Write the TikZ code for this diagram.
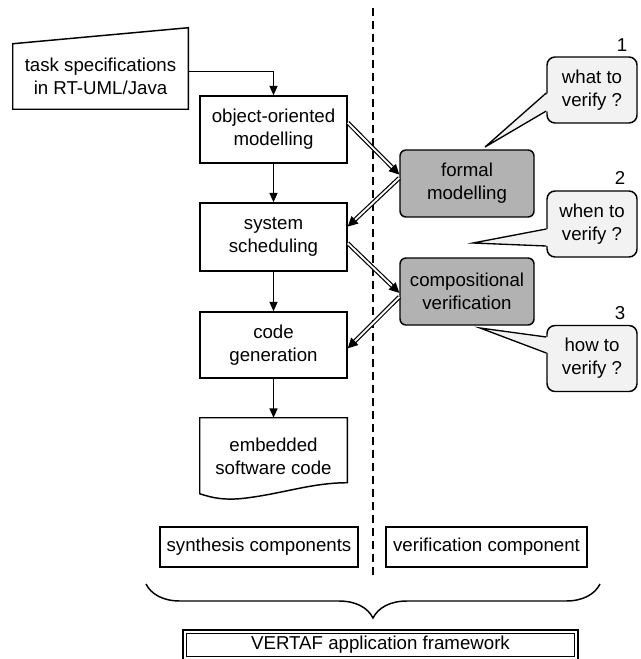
\documentclass[tikz,border=0pt]{standalone}
\usepackage{fontspec}
\setmainfont{Liberation Sans}
\usetikzlibrary{arrows.meta,calc,decorations.pathreplacing}
\definecolor{modgray}{RGB}{178,178,178}
\definecolor{bubble}{RGB}{242,242,242}
\begin{document}
\begin{tikzpicture}[x=0.75pt,y=-0.75pt,
  lbl/.style={font=\fontsize{14}{17.25}\selectfont, align=center, inner sep=0pt},
  stepbox/.style={lbl, draw, line width=1.1pt, minimum width=110.25pt},
  plainbox/.style={lbl, minimum width=110.25pt},
  modbox/.style={lbl, draw, line width=1.1pt, fill=modgray, rounded corners=4.5pt,
    minimum width=100.5pt, minimum height=50.25pt},
  bubblebox/.style={lbl, draw, line width=1.1pt, fill=bubble, rounded corners=6pt,
    minimum width=67.5pt, minimum height=49.5pt},
  tagbox/.style={lbl, draw, line width=1.1pt, minimum height=30pt},
  arr/.style={line width=1pt, -{Triangle[length=7pt,width=6pt]}},
  dblarr/.style={line width=0.9pt, double distance=1.4pt,
    -{Triangle[length=7.5pt,width=7.5pt]}},
  pointer/.style={line width=1pt, line join=miter},
]
\useasboundingbox (0,0) rectangle (641,659);

% separator between synthesis and verification sides
\coordinate (dtop) at (373,8);
\coordinate (dbot) at (373,578);
\draw[line width=1.1pt, dash pattern=on 6pt off 3.75pt] (dtop) -- (dbot);

% synthesis flow
\node[plainbox, minimum width=131.25pt, minimum height=48.75pt] (task) at (100.5,76.5)
  {task specifications\\in RT-UML/Java};
\draw[line width=1.1pt] (task.south west) -- (task.north west)
  -- ($(task.north east)+(0,-16)$) -- (task.south east) -- cycle;

\node[stepbox, minimum height=50.25pt] (oo) at (273.5,129.5) {object-oriented\\modelling};
\node[stepbox, minimum height=51pt] (ss) at (273.5,237) {system\\scheduling};
\node[stepbox, minimum height=49.5pt] (cg) at (273.5,345) {code\\generation};
\node[plainbox, minimum height=57pt] (emb) at (273.5,456) {embedded\\software code};
\draw[line width=1.1pt] (emb.north west) -- (emb.north east) -- ($(emb.north east)+(0,65)$)
  .. controls ($(emb.north east)+(-37,65)$) and ($(emb.north west)+(80,77)$)
  .. ($(emb.north west)+(40,81)$)
  .. controls ($(emb.north west)+(25,82)$) and ($(emb.north west)+(15,81)$)
  .. ($(emb.north west)+(0,76)$) -- cycle;

\draw[arr] ($(task.north east)!0.42!(task.south east)$) -| (oo.north);
\draw[arr] (oo.south) -- (ss.north);
\draw[arr] (ss.south) -- (cg.north);
\draw[arr] (cg.south) -- (emb.north);

% verification side
\node[modbox] (formal) at (467,183.5) {formal\\modelling};
\node[modbox] (comp) at (467,291.5) {compositional\\verification};

\draw[dblarr] ($(oo.north east)!0.4!(oo.south east)$) -- ($(formal.north west)!0.37!(formal.south west)$);
\draw[dblarr] ($(formal.north west)!0.42!(formal.south west)$) -- ($(ss.north east)!0.35!(ss.south east)$);
\draw[dblarr] ($(ss.north east)!0.59!(ss.south east)$) -- ($(comp.north west)!0.52!(comp.south west)$);
\draw[dblarr] ($(comp.north west)!0.58!(comp.south west)$) -- ($(cg.north east)!0.55!(cg.south east)$);

% question bubbles
\node[bubblebox] (q1) at (592,90) {what to\\verify ?};
\node[bubblebox] (q2) at (592,224) {when to\\verify ?};
\node[bubblebox] (q3) at (592,358.5) {how to\\verify ?};

\coordinate (t1) at (485,147);
\coordinate (t2) at (473,243);
\coordinate (t3) at (480,328);

\fill[bubble] ($(q1.west)+(2,3)$) -- (t1) -- ($(q1.west)+(2,21)$) -- cycle;
\draw[pointer] ($(q1.west)+(0,3)$) -- (t1) -- ($(q1.west)+(0,21)$);
\fill[bubble] ($(q2.west)+(2,5)$) -- (t2) -- ($(q2.west)+(2,22)$) -- cycle;
\draw[pointer] ($(q2.west)+(0,5)$) -- (t2) -- ($(q2.west)+(0,22)$);
\fill[bubble] ($(q3.west)+(2,-21.5)$) -- (t3) -- ($(q3.west)+(2,-5.5)$) -- cycle;
\draw[pointer] ($(q3.west)+(0,-21.5)$) -- (t3) -- ($(q3.west)+(0,-5.5)$);

\node[lbl] (n1) at (622,45) {1};
\node[lbl] (n2) at (620,178) {2};
\node[lbl] (n3) at (620,313) {3};

% component groups and framework
\node[tagbox, minimum width=148.5pt] (syn) at (259,547) {synthesis components};
\node[tagbox, minimum width=150.75pt] (ver) at (486.5,547) {verification component};

\coordinate (bl) at (146,584);
\coordinate (br) at (600,584);
\draw[line width=1.1pt, decorate, decoration={brace, mirror, amplitude=25.5pt}] (bl) -- (br);

\node[lbl, minimum width=293.25pt, minimum height=19.5pt] (fw) at (380.5,645)
  {VERTAF application framework};
\draw[line width=0.9pt, double distance=1.8pt] (fw.north west) rectangle (fw.south east);
\end{tikzpicture}
\end{document}
